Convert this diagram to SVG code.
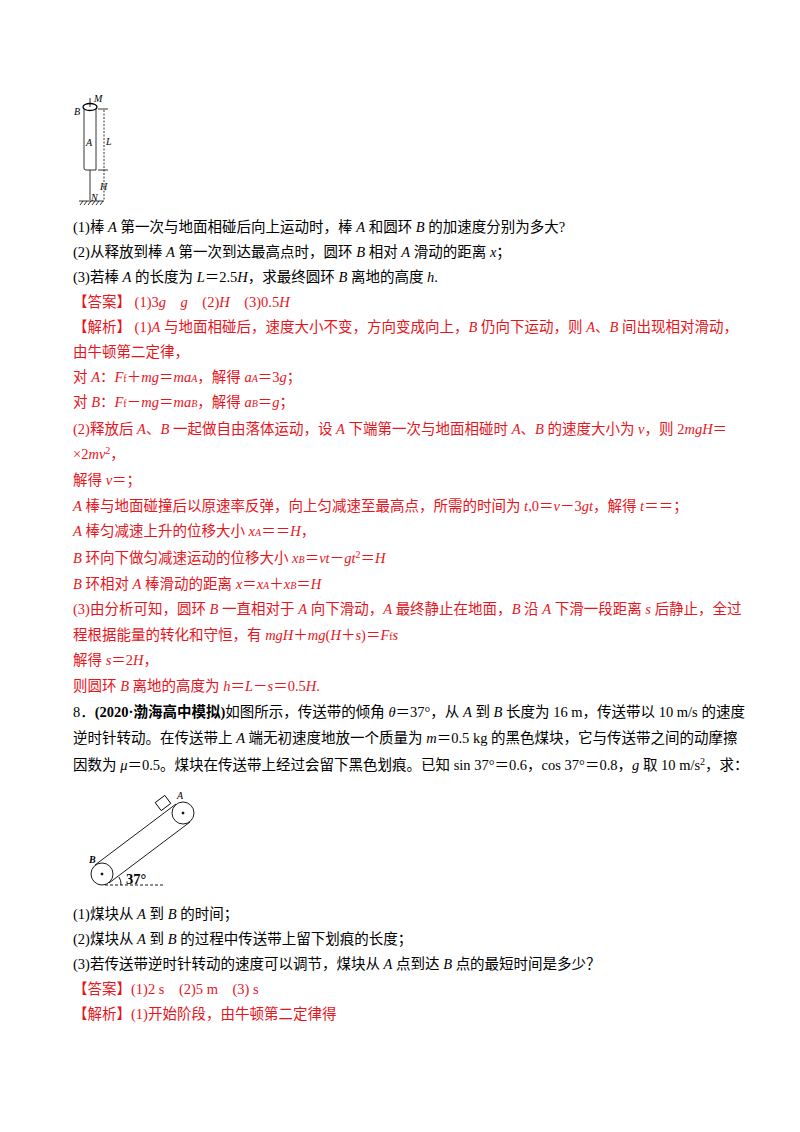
<svg xmlns="http://www.w3.org/2000/svg" width="800" height="1132" viewBox="0 0 800 1132">
<style>
text{font-family:"Liberation Serif","Noto Sans CJK SC",serif;font-size:14.5px;fill:#000}
.r{fill:#e8141c}
.s{font-size:10px}
.i{font-style:italic}
.fl{font-family:"Liberation Serif",serif;font-style:italic;font-size:10px}
</style>
<rect width="800" height="1132" fill="#fff"/>
<g id="fig1" stroke="#000" fill="none" stroke-width="0.8">
<ellipse cx="90" cy="107" rx="7" ry="3.5" stroke-width="1.3"/>
<line x1="90" y1="98" x2="90" y2="107"/>
<path d="M84 109 V168 Q84 170 86 170 H96 V109"/>
<line x1="90" y1="170" x2="90" y2="200"/>
<line x1="79" y1="201" x2="104" y2="201"/>
<path d="M80 205 L83 201 M84 205 L87 201 M88 205 L91 201 M92 205 L95 201 M96 205 L99 201 M100 205 L103 201"/>
<line x1="104" y1="110" x2="104" y2="200" stroke-dasharray="2,1.5"/>
<line x1="98" y1="109" x2="108" y2="109"/><line x1="98" y1="170" x2="108" y2="170"/>
<text x="94" y="102" class="fl" stroke="none" fill="#000">M</text>
<text x="74" y="115" class="fl" stroke="none" fill="#000">B</text>
<text x="86" y="146" class="fl" stroke="none" fill="#000">A</text>
<text x="106" y="145" class="fl" stroke="none" fill="#000">L</text>
<text x="100" y="190" class="fl" stroke="none" fill="#000">H</text>
<text x="91" y="201" class="fl" stroke="none" fill="#000">N</text>
</g>
<g id="text1">
<text x="73" y="232">(1)棒 <tspan class="i">A</tspan> 第一次与地面相碰后向上运动时，棒 <tspan class="i">A</tspan> 和圆环 <tspan class="i">B</tspan> 的加速度分别为多大?</text>
<text x="73" y="257">(2)从释放到棒 <tspan class="i">A</tspan> 第一次到达最高点时，圆环 <tspan class="i">B</tspan> 相对 <tspan class="i">A</tspan> 滑动的距离 <tspan class="i">x</tspan>；</text>
<text x="73" y="282">(3)若棒 <tspan class="i">A</tspan> 的长度为 <tspan class="i">L</tspan>＝2.5<tspan class="i">H</tspan>，求最终圆环 <tspan class="i">B</tspan> 离地的高度 <tspan class="i">h</tspan>.</text>
<text x="73" y="307" class="r">【答案】 (1)3<tspan class="i">g</tspan>　<tspan class="i">g</tspan>　(2)<tspan class="i">H</tspan>　(3)0.5<tspan class="i">H</tspan></text>
<text x="73" y="332" class="r">【解析】 (1)<tspan class="i">A</tspan> 与地面相碰后，速度大小不变，方向变成向上，<tspan class="i">B</tspan> 仍向下运动，则 <tspan class="i">A</tspan>、<tspan class="i">B</tspan> 间出现相对滑动，</text>
<text x="73" y="357" class="r">由牛顿第二定律，</text>
<text x="73" y="382" class="r">对 <tspan class="i">A</tspan>：<tspan class="i">F</tspan><tspan class="s">f</tspan>＋<tspan class="i">mg</tspan>＝<tspan class="i">ma<tspan class="s">A</tspan></tspan>，解得 <tspan class="i">a<tspan class="s">A</tspan></tspan>＝3<tspan class="i">g</tspan>；</text>
<text x="73" y="407" class="r">对 <tspan class="i">B</tspan>：<tspan class="i">F</tspan><tspan class="s">f</tspan>－<tspan class="i">mg</tspan>＝<tspan class="i">ma<tspan class="s">B</tspan></tspan>，解得 <tspan class="i">a<tspan class="s">B</tspan></tspan>＝<tspan class="i">g</tspan>；</text>
<text x="73" y="434" class="r">(2)释放后 <tspan class="i">A</tspan>、<tspan class="i">B</tspan> 一起做自由落体运动，设 <tspan class="i">A</tspan> 下端第一次与地面相碰时 <tspan class="i">A</tspan>、<tspan class="i">B</tspan> 的速度大小为 <tspan class="i">v</tspan>，则 2<tspan class="i">mgH</tspan>＝</text>
<text x="73" y="459" class="r">×2<tspan class="i">mv</tspan><tspan class="s" dy="-5">2</tspan><tspan dy="5">，</tspan></text>
<text x="73" y="485" class="r">解得 <tspan class="i">v</tspan>＝；</text>
<text x="73" y="511" class="r"><tspan class="i">A</tspan> 棒与地面碰撞后以原速率反弹，向上匀减速至最高点，所需的时间为 <tspan class="i">t</tspan>,0＝<tspan class="i">v</tspan>－3<tspan class="i">gt</tspan>，解得 <tspan class="i">t</tspan>＝＝；</text>
<text x="73" y="536" class="r"><tspan class="i">A</tspan> 棒匀减速上升的位移大小 <tspan class="i">x<tspan class="s">A</tspan></tspan>＝＝<tspan class="i">H</tspan>，</text>
<text x="73" y="563" class="r"><tspan class="i">B</tspan> 环向下做匀减速运动的位移大小 <tspan class="i">x<tspan class="s">B</tspan></tspan>＝<tspan class="i">vt</tspan>－<tspan class="i">gt</tspan><tspan class="s" dy="-5">2</tspan><tspan dy="5">＝</tspan><tspan class="i">H</tspan></text>
<text x="73" y="589" class="r"><tspan class="i">B</tspan> 环相对 <tspan class="i">A</tspan> 棒滑动的距离 <tspan class="i">x</tspan>＝<tspan class="i">x<tspan class="s">A</tspan></tspan>＋<tspan class="i">x<tspan class="s">B</tspan></tspan>＝<tspan class="i">H</tspan></text>
<text x="73" y="614" class="r">(3)由分析可知，圆环 <tspan class="i">B</tspan> 一直相对于 <tspan class="i">A</tspan> 向下滑动，<tspan class="i">A</tspan> 最终静止在地面，<tspan class="i">B</tspan> 沿 <tspan class="i">A</tspan> 下滑一段距离 <tspan class="i">s</tspan> 后静止，全过</text>
<text x="73" y="640" class="r">程根据能量的转化和守恒，有 <tspan class="i">mgH</tspan>＋<tspan class="i">mg</tspan>(<tspan class="i">H</tspan>＋<tspan class="i">s</tspan>)＝<tspan class="i">F</tspan><tspan class="s">f</tspan><tspan class="i">s</tspan></text>
<text x="73" y="665" class="r">解得 <tspan class="i">s</tspan>＝2<tspan class="i">H</tspan>，</text>
<text x="73" y="691" class="r">则圆环 <tspan class="i">B</tspan> 离地的高度为 <tspan class="i">h</tspan>＝<tspan class="i">L</tspan>－<tspan class="i">s</tspan>＝0.5<tspan class="i">H</tspan>.</text>
<text x="73" y="717">8．<tspan font-weight="bold">(2020·渤海高中模拟)</tspan>如图所示，传送带的倾角 <tspan class="i">θ</tspan>＝37°，从 <tspan class="i">A</tspan> 到 <tspan class="i">B</tspan> 长度为 16 m，传送带以 10 m/s 的速度</text>
<text x="73" y="743">逆时针转动。在传送带上 <tspan class="i">A</tspan> 端无初速度地放一个质量为 <tspan class="i">m</tspan>＝0.5 kg 的黑色煤块，它与传送带之间的动摩擦</text>
<text x="73" y="770">因数为 <tspan class="i">μ</tspan>＝0.5。煤块在传送带上经过会留下黑色划痕。已知 sin 37°＝0.6，cos 37°＝0.8，<tspan class="i">g</tspan> 取 10 m/s<tspan class="s" dy="-5">2</tspan><tspan dy="5">，求：</tspan></text>
</g>
<g id="fig2" stroke="#000" fill="none" stroke-width="0.9">
<circle cx="102" cy="874" r="11"/>
<circle cx="183" cy="813" r="11"/>
<circle cx="102" cy="874" r="1" fill="#000"/>
<circle cx="183" cy="813" r="1" fill="#000"/>
<line x1="95" y1="865" x2="176" y2="804"/>
<line x1="109" y1="883" x2="190" y2="822"/>
<rect x="157" y="798" width="12" height="10" transform="rotate(-37 163 803)"/>
<line x1="105" y1="885" x2="165" y2="885" stroke-dasharray="3,2"/>
<path d="M121 885 A13 13 0 0 0 119 877"/>
<text x="177" y="799" class="fl" stroke="none" fill="#000">A</text>
<text x="89" y="863" class="fl" stroke="none" fill="#000" font-weight="bold">B</text>
<text x="126" y="884" stroke="none" fill="#000" font-size="10" font-weight="bold">37°</text>
</g>
<g id="text2">
<text x="73" y="919">(1)煤块从 <tspan class="i">A</tspan> 到 <tspan class="i">B</tspan> 的时间；</text>
<text x="73" y="944">(2)煤块从 <tspan class="i">A</tspan> 到 <tspan class="i">B</tspan> 的过程中传送带上留下划痕的长度；</text>
<text x="73" y="969">(3)若传送带逆时针转动的速度可以调节，煤块从 <tspan class="i">A</tspan> 点到达 <tspan class="i">B</tspan> 点的最短时间是多少？</text>
<text x="73" y="994" class="r">【答案】(1)2 s　(2)5 m　(3) s</text>
<text x="73" y="1019" class="r">【解析】(1)开始阶段，由牛顿第二定律得</text>
</g>
<g id="connectors"/>
</svg>
